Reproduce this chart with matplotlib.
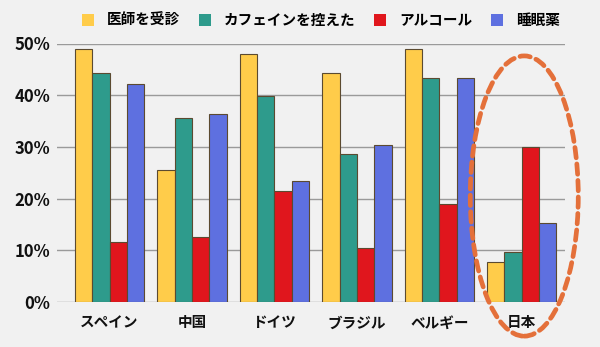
import matplotlib
matplotlib.use("Agg")
import matplotlib.pyplot as plt
from matplotlib.patches import Ellipse
import numpy as np

plt.rcParams['font.family'] = ['Noto Sans CJK JP', 'DejaVu Sans']

countries = ["スペイン", "中国", "ドイツ", "ブラジル", "ベルギー", "日本"]
series_names = ["医師を受診", "カフェインを控えた", "アルコール", "睡眠薬"]
doctor = [48.9, 25.5, 48.0, 44.3, 49.0, 7.8]
caffeine = [44.2, 35.5, 39.8, 28.6, 43.3, 9.7]
alcohol = [11.7, 12.6, 21.4, 10.4, 19.0, 29.9]
sleeping_pills = [42.2, 36.4, 23.4, 30.3, 43.4, 15.2]
yticks = [0, 10, 20, 30, 40, 50]
ytick_labels = ["0%", "10%", "20%", "30%", "40%", "50%"]

colors = ["#FFCC4A", "#2E9B8C", "#E0161D", "#5E70E0"]
edge = "#5b4a30"

fig = plt.figure(figsize=(6.0, 3.47), dpi=100)
fig.patch.set_facecolor("#F1F1F1")
ax = fig.add_axes([57 / 600, 1 - 302 / 347, (565 - 57) / 600, (302 - 43.5) / 347])
ax.set_facecolor("none")

x = np.arange(len(countries))
w = 0.21
series = [doctor, caffeine, alcohol, sleeping_pills]
for i, (vals, c, name) in enumerate(zip(series, colors, series_names)):
    ax.bar(x + (i - 1.5) * w, vals, width=w, color=c, edgecolor=edge,
           linewidth=0.8, label=name, zorder=3)

ax.set_xlim(-0.637, len(countries) - 1 + 0.524)
ax.set_ylim(0, 50)
ax.set_yticks(yticks)
ax.set_yticklabels(ytick_labels)
ax.yaxis.grid(True, color="#9a9a9a", linewidth=1.0, zorder=0)
ax.set_axisbelow(True)
for s in ax.spines.values():
    s.set_visible(False)
ax.tick_params(axis="both", length=0)
ax.tick_params(axis="y", pad=5, labelsize=12)
ax.tick_params(axis="x", pad=9, labelsize=10.5)
for t in ax.get_yticklabels():
    t.set_fontweight("bold")
    t.set_color("#111111")
ax.set_xticks(x)
ax.set_xticklabels(countries, fontweight="bold", color="#111111")

# highlight Japan with a dashed ellipse
ell = Ellipse((5.03, 20.5), width=1.31, height=54.2, fill=False,
              edgecolor="#E4703A", linewidth=3.4, linestyle=(0, (2.2, 1.3)),
              capstyle="round", clip_on=False, zorder=5)
ax.add_patch(ell)

leg = fig.legend(loc="center left", bbox_to_anchor=(82 / 600, 1 - 20 / 347),
                 ncol=4, frameon=False, handlelength=0.8, handleheight=0.8,
                 columnspacing=1.3, handletextpad=0.9, borderpad=0,
                 borderaxespad=0, prop={'weight': 'bold', 'size': 10.5})
for h in leg.legend_handles:
    h.set_edgecolor("none")

fig.savefig("out.png", dpi=100, facecolor=fig.get_facecolor())
